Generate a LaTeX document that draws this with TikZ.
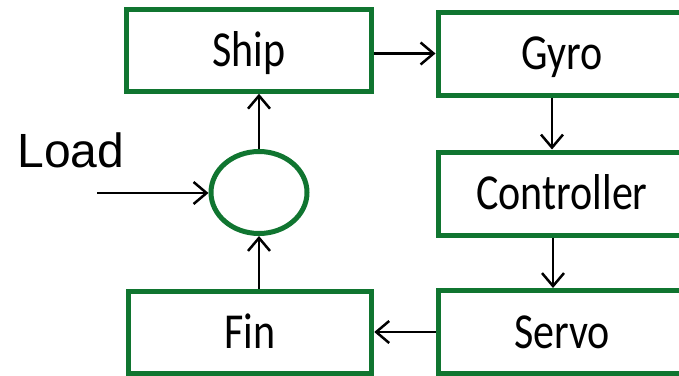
\documentclass[tikz,border=0pt]{standalone}
\usepackage{graphicx}
\usepackage{fontspec}
\setmainfont{Carlito}
\newfontfamily\loadfont{Liberation Sans}
\usetikzlibrary{arrows.meta,shapes.geometric}
\definecolor{boxgreen}{RGB}{16,117,48}
\newcommand{\tall}[1]{\scalebox{1}[1.2]{#1}}
\tikzset{
  block/.style={draw=boxgreen, line width=5pt, rectangle, minimum width=248pt,
    minimum height=83pt, inner sep=0pt, text height=32pt, text depth=-7pt,
    font=\fontsize{42}{50}\selectfont},
  sumnode/.style={draw=boxgreen, line width=5pt, ellipse, minimum width=96pt,
    minimum height=82pt},
  arr/.style={-{Straight Barb[length=13pt,width=22pt]}, line width=2.5pt},
}
\begin{document}
\begin{tikzpicture}[x=1pt,y=-1pt]
  \useasboundingbox (0,0) rectangle (679,375);
  % blocks of the loop
  \node[block, minimum width=244.5pt, minimum height=81.5pt] (ship) at (249,50.5) {\tall{Ship}};
  \node[block] (gyro) at (562,53.5) {\tall{Gyro}};
  \node[block] (ctrl) at (562,193.5) {\tall{Controller}};
  \node[block] (servo) at (562,332) {\tall{Servo}};
  \node[block, minimum width=243.5pt, minimum height=82.5pt] (fin) at (250,332.5) {\tall{Fin}};
  \node[sumnode] (sum) at (259,192.5) {};
  \node[font=\loadfont\fontsize{48}{56}\selectfont, inner sep=0pt] (load) at (71,150) {Load};
  \coordinate (loadin) at (97,193);
  % connectors
  \draw[arr] (loadin) -- (loadin -| sum.west);
  \draw[arr] (ship.east |- gyro.west) -- (gyro.west);
  \draw[arr] ([xshift=-10pt]gyro.south) -- ([xshift=-10pt]ctrl.north);
  \draw[arr] ([xshift=-9pt]ctrl.south) -- ([xshift=-9pt]servo.north);
  \draw[arr] (servo.west) -- (fin.east |- servo.west);
  \draw[arr] (fin.north -| sum.south) -- (sum.south);
  \draw[arr] (sum.north) -- (sum.north |- ship.south);
\end{tikzpicture}
\end{document}
